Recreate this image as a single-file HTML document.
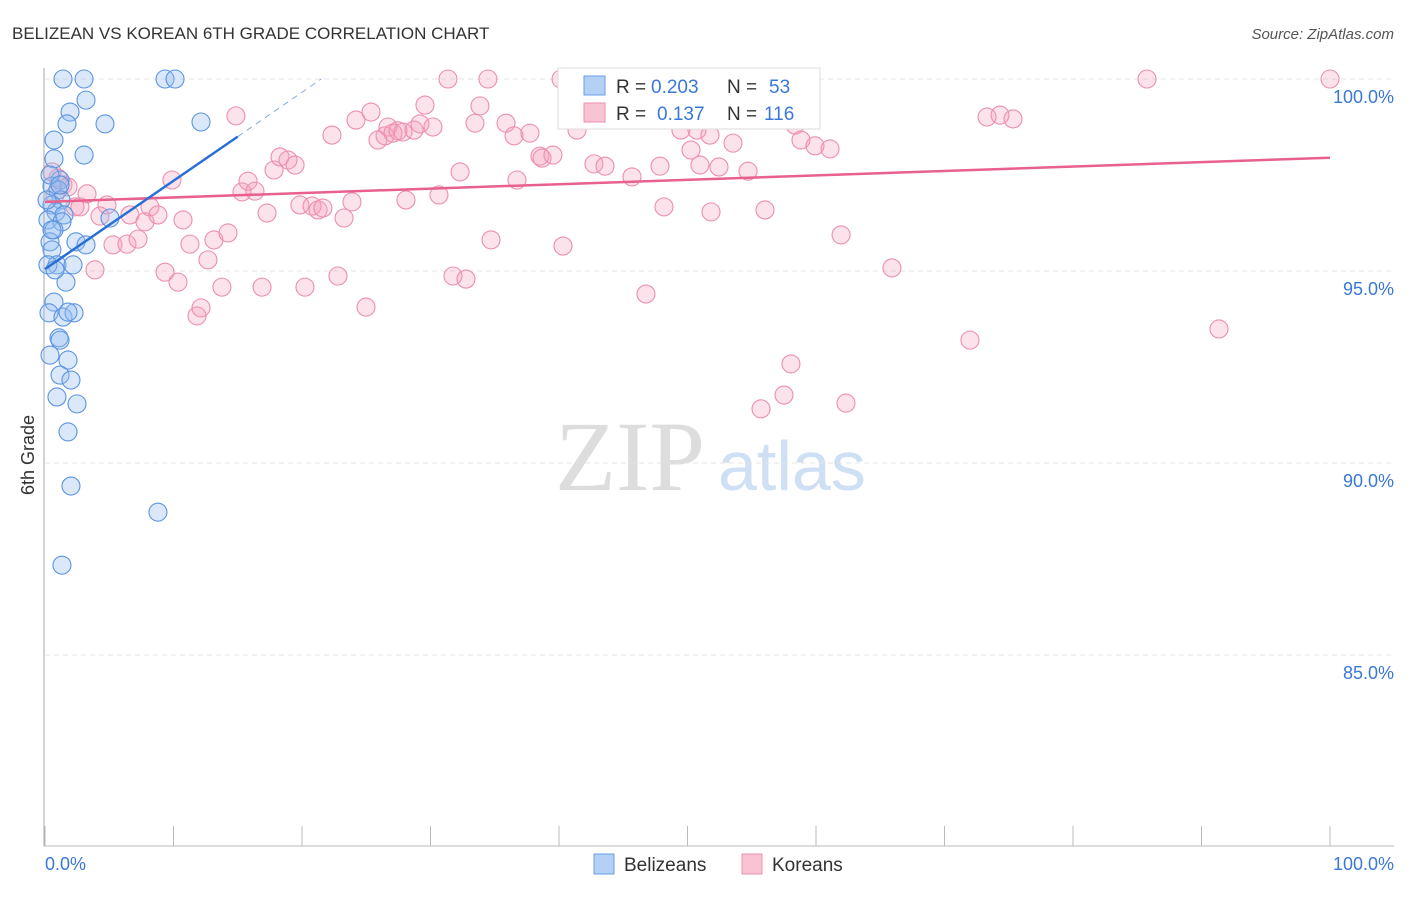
<!DOCTYPE html>
<html><head><meta charset="utf-8"><style>
body{margin:0;background:#fff;font-family:"Liberation Sans",sans-serif}
</style></head><body>
<svg width="1406" height="892" xmlns="http://www.w3.org/2000/svg" id="chart">
<text x="12" y="39" font-size="17" fill="#333">BELIZEAN VS KOREAN 6TH GRADE CORRELATION CHART</text>
<text x="1394" y="39" font-size="15" fill="#555" text-anchor="end" font-style="italic">Source: ZipAtlas.com</text>
<text x="555" y="490" font-size="100" fill="#ddd" font-family="Liberation Serif,serif">ZIP</text>
<text x="718" y="490" font-size="70" fill="#cfe0f5">atlas</text>
<g id="grid"></g><g id="axes"></g><g id="pts"></g><g id="lines"></g>
<text transform="translate(34,455) rotate(-90)" font-size="18" fill="#333" text-anchor="middle">6th Grade</text>
<text x="45" y="870" font-size="18" fill="#3a78d8">0.0%</text>
<text x="1394" y="870" font-size="18" fill="#3a78d8" text-anchor="end">100.0%</text>
<g>
<rect x="558" y="68" width="262" height="61" fill="#fff" stroke="#ddd"/>
<rect x="584" y="76" width="21" height="19" fill="#b5d0f5" stroke="#6a9ee8"/>
<rect x="584" y="103" width="21" height="19" fill="#f8c3d3" stroke="#ef8fae"/>
<text x="616" y="93" font-size="19" fill="#333">R =</text>
<text x="651" y="93" font-size="19" fill="#3a78d8">0.203</text>
<text x="727" y="93" font-size="19" fill="#333">N =</text>
<text x="769" y="93" font-size="19" fill="#3a78d8">53</text>
<text x="616" y="120" font-size="19" fill="#333">R =</text>
<text x="657" y="120" font-size="19" fill="#3a78d8">0.137</text>
<text x="727" y="120" font-size="19" fill="#333">N =</text>
<text x="764" y="120" font-size="19" fill="#3a78d8">116</text>
</g>
<g>
<rect x="594" y="854" width="20" height="20" fill="#b5d0f5" stroke="#6a9ee8"/>
<text x="624" y="871" font-size="19" fill="#333">Belizeans</text>
<rect x="742" y="854" width="20" height="20" fill="#f8c3d3" stroke="#ef8fae"/>
<text x="772" y="871" font-size="19" fill="#333">Koreans</text>
</g>
</svg>
<script>
const yTicks=[100,95,90,85];
const yTickLabels=["100.0%","95.0%","90.0%","85.0%"];
const bluePx=[[63,79],[84,79],[165,79],[175,79],[86,100],[70,112],[67,124],[105,124],[201,122],[54,140],[84,155],[54,159],[60,180],[52,186],[58,190],[61,200],[52,205],[56,212],[64,215],[48,220],[110,218],[62,222],[54,230],[76,242],[86,245],[50,242],[52,250],[57,265],[73,265],[66,282],[54,302],[49,313],[63,317],[74,313],[68,312],[59,338],[60,340],[50,355],[68,360],[60,375],[71,380],[57,397],[77,404],[68,432],[71,486],[158,512],[62,565],[48,265],[47,200],[50,175],[60,185],[52,230],[55,270]];
const pinkPx=[[52,172],[58,178],[63,185],[68,187],[55,195],[87,194],[75,207],[80,207],[100,216],[107,205],[113,245],[95,270],[127,244],[130,215],[138,239],[145,222],[150,207],[158,215],[165,272],[172,180],[178,282],[183,220],[190,244],[197,316],[201,308],[208,260],[214,240],[222,287],[228,233],[236,116],[242,192],[248,181],[255,191],[262,287],[267,213],[274,170],[280,157],[288,160],[295,165],[300,205],[305,287],[312,206],[318,210],[323,208],[338,276],[344,218],[352,202],[332,135],[356,120],[366,307],[371,112],[378,140],[385,136],[388,127],[393,133],[398,131],[403,132],[406,200],[414,130],[420,124],[425,105],[433,127],[439,195],[448,79],[453,276],[460,172],[466,279],[475,123],[480,106],[488,79],[491,240],[506,123],[514,136],[517,180],[530,133],[540,156],[542,158],[553,155],[561,79],[563,246],[570,79],[577,130],[594,164],[605,166],[632,177],[646,294],[660,166],[664,207],[681,130],[691,150],[700,165],[711,212],[719,167],[733,143],[748,171],[761,409],[765,210],[784,395],[791,364],[795,125],[801,140],[815,146],[830,149],[841,235],[846,403],[892,268],[970,340],[987,117],[1013,119],[1147,79],[1219,329],[1330,79],[697,130],[710,135],[1000,115]];
const toData=p=>[+((p[0]-45)/12.85).toFixed(2),+(100-(p[1]-79)/38.4).toFixed(2)];
const blueData=bluePx.map(toData);
const pinkData=pinkPx.map(toData);
const blueTrend=[[0,95.05],[15,98.5]];
const blueTrendExt=[[15,98.5],[21.5,100]];
const pinkTrend=[[0,96.8],[100,97.95]];
const X=v=>45+v*12.85, Y=v=>79+(100-v)*38.4;
const NS="http://www.w3.org/2000/svg";
function mk(t,a,parent){const e=document.createElementNS(NS,t);for(const k in a)e.setAttribute(k,a[k]);document.getElementById(parent).appendChild(e);return e;}
yTicks.forEach((t,i)=>{
 const l=mk('line',{x1:45,x2:1394,y1:Y(t),y2:Y(t),stroke:'#e4e4e4','stroke-dasharray':'5,4'},'grid');
 
 
 const tx=mk('text',{x:1394,y:Y(t)+24,'font-size':18,fill:'#3a78d8','text-anchor':'end'},'grid');
 tx.textContent=yTickLabels[i];
 
 
});
let a=mk('line',{x1:44,x2:44,y1:68,y2:846,stroke:'#aaa'},'axes');


a=mk('line',{x1:44,x2:1394,y1:846,y2:846,stroke:'#bbb'},'axes');


for(let i=0;i<=10;i++){const t=mk('line',{x1:X(i*10),x2:X(i*10),y1:826,y2:846,stroke:'#bbb'},'axes');
 
 }
pinkData.forEach(d=>{const c=mk('circle',{cx:X(d[0]),cy:Y(d[1]),r:9,fill:'rgba(244,160,188,0.3)',stroke:'#ec8fad','stroke-width':1.1},'pts');
 
 });
blueData.forEach(d=>{const c=mk('circle',{cx:X(d[0]),cy:Y(d[1]),r:9,fill:'rgba(150,190,240,0.35)',stroke:'#5b94e0','stroke-width':1.1},'pts');
 
 });
let ln=mk('line',{x1:X(pinkTrend[0][0]),y1:Y(pinkTrend[0][1]),x2:X(pinkTrend[1][0]),y2:Y(pinkTrend[1][1]),stroke:'#e8608c','stroke-width':2.5},'lines');


ln=mk('line',{x1:X(blueTrend[0][0]),y1:Y(blueTrend[0][1]),x2:X(blueTrend[1][0]),y2:Y(blueTrend[1][1]),stroke:'#2a6fd6','stroke-width':2.5},'lines');


ln=mk('line',{x1:X(blueTrendExt[0][0]),y1:Y(blueTrendExt[0][1]),x2:X(blueTrendExt[1][0]),y2:Y(blueTrendExt[1][1]),stroke:'#7fa8e8','stroke-width':1,'stroke-dasharray':'6,5'},'lines');


</script>
</body></html>
